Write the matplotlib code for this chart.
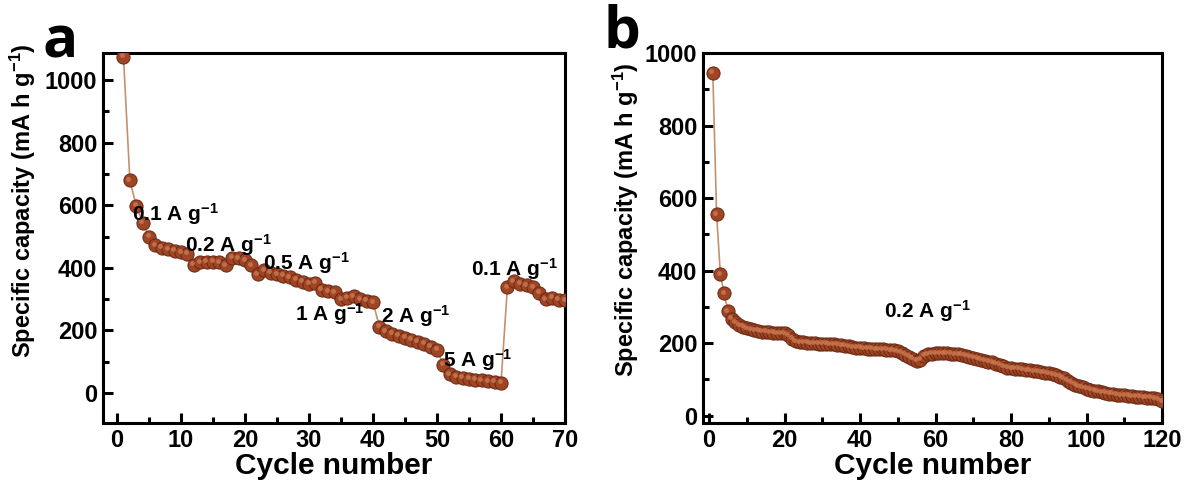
"""Rate capability and cycling of the anode at constant current."""

import matplotlib
matplotlib.use("Agg")
import matplotlib.pyplot as plt
from matplotlib.ticker import MultipleLocator
from matplotlib import transforms

# rate test: 10 cycles at each current density
rate_cycles = list(range(1, 71))
rate_capacity = [
    1075, 680, 598, 545, 500, 472, 465, 460, 455, 450,
    445, 410, 418, 420, 420, 418, 408, 432, 430, 425,
    408, 380, 392, 385, 380, 375, 370, 362, 356, 350,
    352, 330, 325, 322, 300, 305, 310, 300, 295, 290,
    212, 198, 190, 183, 176, 170, 164, 157, 148, 138,
    90, 60, 52, 48, 45, 42, 40, 38, 36, 33,
    338, 358, 350, 345, 338, 320, 300, 305, 298, 296,
]
rate_labels = ["0.1 A g$^{-1}$", "0.2 A g$^{-1}$", "0.5 A g$^{-1}$",
               "1 A g$^{-1}$", "2 A g$^{-1}$", "5 A g$^{-1}$", "0.1 A g$^{-1}$"]
rate_label_pos = [(9.1, 572), (17.4, 473), (29.6, 415), (33.3, 252),
                  (46.6, 246), (56.4, 105), (62.1, 396)]

# long cycling at 0.2 A/g
cyc_cycles = list(range(1, 121))
cyc_capacity = [
    945, 556, 390, 338, 288, 268, 258, 250, 245, 241,
    238, 236, 234, 232, 231, 230, 229, 228, 228, 227,
    222, 212, 205, 203, 202, 201, 200, 200, 199, 198,
    198, 197, 197, 196, 195, 193, 191, 189, 188, 187,
    186, 185, 185, 184, 184, 183, 182, 181, 180, 178,
    174, 168, 162, 157, 152, 155, 166, 170, 171, 172,
    172, 172, 172, 171, 170, 169, 168, 166, 163, 160,
    157, 154, 151, 149, 147, 144, 141, 136, 133, 131,
    130, 129, 128, 126, 125, 123, 122, 120, 119, 117,
    115, 112, 108, 103, 97, 91, 86, 82, 78, 75,
    72, 69, 67, 65, 63, 61, 60, 58, 57, 56,
    55, 54, 53, 52, 51, 50, 49, 48, 45, 40,
]
cyc_label = "0.2 A g$^{-1}$"
cyc_label_pos = (57.9, 288)

plt.rcParams["font.family"] = "Liberation Sans"
plt.rcParams["font.weight"] = "bold"
plt.rcParams["axes.labelweight"] = "bold"
plt.rcParams["mathtext.fontset"] = "custom"
plt.rcParams["mathtext.rm"] = "Liberation Sans:bold"
plt.rcParams["mathtext.bf"] = "Liberation Sans:bold"
plt.rcParams["mathtext.default"] = "bf"

BEAD = "#9e4526"
BEAD_EDGE = "#6a2812"
SHINE = "#cc7a52"
LINK = "#c4916c"

fig = plt.figure(figsize=(11.96, 4.94), dpi=100)
W, H = 1196, 494
ax_a = fig.add_axes([103 / W, 1 - 423 / H, 462 / W, 370 / H])
ax_b = fig.add_axes([703 / W, 1 - 423 / H, 459 / W, 370 / H])


def beads(ax, x, y):
    ax.plot(x, y, "-", color=LINK, lw=1.2, zorder=2)
    ax.plot(x, y, "o", ms=9.5, mfc=BEAD, mec=BEAD_EDGE, mew=0.7, zorder=3)
    shift = transforms.offset_copy(ax.transData, fig=fig, x=-1.5, y=1.5, units="dots")
    ax.plot(x, y, "o", ms=3.5, mfc=SHINE, mec="none", alpha=0.8,
            transform=shift, zorder=4)


def style(ax, xmajor, xminor):
    for sp in ax.spines.values():
        sp.set_linewidth(2.2)
    ax.yaxis.set_major_locator(MultipleLocator(200))
    ax.yaxis.set_minor_locator(MultipleLocator(100))
    ax.xaxis.set_major_locator(MultipleLocator(xmajor))
    ax.xaxis.set_minor_locator(MultipleLocator(xminor))
    ax.tick_params(which="both", direction="in", width=2.2, labelsize=17, pad=4)
    ax.tick_params(which="major", length=7)
    ax.tick_params(which="minor", length=4)
    ax.set_xlabel("Cycle number", fontsize=21.5, labelpad=0)
    ax.set_ylabel("Specific capacity (mA h g$^{-1}$)", fontsize=17)


beads(ax_a, rate_cycles, rate_capacity)
style(ax_a, 10, 5)
ax_a.set_xlim(-2.2, 70)
ax_a.set_ylim(-96, 1087)
ax_a.yaxis.set_label_coords(-0.14, 0.6)
for txt, (cx, cy) in zip(rate_labels, rate_label_pos):
    ax_a.text(cx, cy, txt, fontsize=15, ha="center", va="center", zorder=5)

beads(ax_b, cyc_cycles, cyc_capacity)
style(ax_b, 20, 10)
ax_b.set_xlim(-1.6, 120)
ax_b.set_ylim(-20, 1000)
ax_b.yaxis.set_label_coords(-0.135, 0.55)
ax_b.text(cyc_label_pos[0], cyc_label_pos[1], cyc_label, fontsize=15,
          ha="center", va="center", zorder=5)

fig.text(60 / W, 1 - 57 / H, "a", fontsize=42, family="Open Sans",
         weight="bold", ha="center", va="baseline")
fig.text(622 / W, 1 - 47 / H, "b", fontsize=42, family="Open Sans",
         weight="bold", ha="center", va="baseline")

fig.savefig("out.png", dpi=100)
